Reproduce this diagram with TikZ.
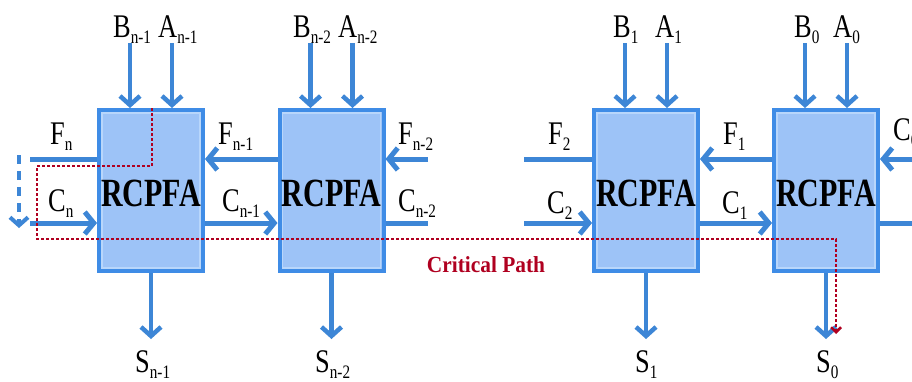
\documentclass[tikz,border=0pt]{standalone}
\usepackage{fontspec}
\setmainfont{Liberation Serif}
\usetikzlibrary{arrows.meta}
\definecolor{boxfill}{HTML}{9DC3F7}
\definecolor{boxline}{HTML}{3F8CE6}
\definecolor{boxinner}{HTML}{B8D6FB}
\definecolor{wire}{HTML}{3D86D6}
\definecolor{crit}{HTML}{B00020}
\newcommand\lsub[1]{\raisebox{-6pt}{\fontsize{19}{19}\selectfont #1}}
\newcommand\lab[2]{\scalebox{0.8}[1]{#1\lsub{#2}}}
\begin{document}
\begin{tikzpicture}[x=1pt,y=-1pt,
  box/.style={draw=boxline,fill=boxfill,line width=4pt,minimum width=104pt,minimum height=161pt,inner sep=0pt},
  innerbox/.style={draw=boxinner,line width=1.5pt},
  boxtext/.style={font=\bfseries\fontsize{40}{40}\selectfont,inner sep=0pt},
  wireline/.style={draw=wire,line width=5pt},
  arr/.style={draw=wire,line width=4.5pt,-{Straight Barb[length=9pt,width=20pt]}},
  harr/.style={draw=wire,line width=5pt,-{Straight Barb[length=9pt,width=22pt]}},
  lbl/.style={font=\fontsize{33}{36}\selectfont,inner sep=0pt,anchor=base west},
  critpath/.style={draw=crit,line width=2.5pt,dash pattern=on 3pt off 2pt,-{Straight Barb[length=5pt,width=10pt]}},
  critlbl/.style={font=\bfseries\fontsize{23}{25}\selectfont,text=crit,inner sep=0pt}
]
\useasboundingbox (0,0) rectangle (912,381);
\fill[white] (0,0) rectangle (912,381);

\coordinate (fy) at (0,159);
\coordinate (cy) at (0,223);

\foreach \i/\x in {1/151,2/331.5,3/646,4/826}{
  \node[box] (b\i) at (\x,190.5) {};
  \draw[innerbox] ([shift={(5,5)}]b\i.north west) rectangle ([shift={(-5,-5)}]b\i.south east);
  \node[boxtext] (r\i) at (\x,193) {\scalebox{0.75}[1]{RCPFA}};
  \coordinate (tb\i) at (\x-21,43);
  \coordinate (ta\i) at (\x+21,43);
  \coordinate (s\i) at (\x,339);
  \draw[arr] (tb\i) -- (tb\i |- b\i.north);
  \draw[arr] (ta\i) -- (ta\i |- b\i.north);
  \draw[arr] (b\i.south) -- (s\i);
}

% horizontal wires
\coordinate (fn) at (30,159);
\coordinate (cn) at (30,223);
\draw[wireline] (fn) -- (fn -| b1.west);
\draw[harr] (cn) -- (cn -| b1.west);
\draw[harr] (b2.west |- fy) -- (b1.east |- fy);
\draw[harr] (b1.east |- cy) -- (b2.west |- cy);
\coordinate (fr2) at (428,159);
\coordinate (cr2) at (428,223);
\draw[harr] (fr2) -- (fr2 -| b2.east);
\draw[wireline] (b2.east |- cy) -- (cr2);
\coordinate (fl3) at (524,159);
\coordinate (cl3) at (524,223);
\draw[wireline] (fl3) -- (fl3 -| b3.west);
\draw[harr] (cl3) -- (cl3 -| b3.west);
\draw[harr] (b4.west |- fy) -- (b3.east |- fy);
\draw[harr] (b3.east |- cy) -- (b4.west |- cy);
\coordinate (fr4) at (912,159);
\coordinate (cr4) at (912,223);
\draw[harr] (fr4) -- (fr4 -| b4.east);
\draw[wireline] (b4.east |- cy) -- (cr4);

% dashed blue arrow on the left
\coordinate (d1) at (19,155);
\coordinate (d2) at (19,228);
\draw[draw=wire,line width=4pt,dash pattern=on 9pt off 7pt,-{Straight Barb[length=8pt,width=18pt]}] (d1) -- (d2);

% critical path
\coordinate (p1) at (152,166);
\coordinate (p2) at (37,166);
\coordinate (p3) at (37,239);
\coordinate (p4) at (836,239);
\coordinate (p5) at (836,334);
\draw[critpath] ([xshift=1pt]b1.north) -- (p1) -- (p2) -- (p3) -- (p4) -- (p5);
\node[critlbl] (cp) at (486,265) {\scalebox{0.93}[1]{Critical Path}};

% labels
\node[lbl] (lb1) at (113,37) {\lab{B}{n-1}};
\node[lbl] (la1) at (158,37) {\lab{A}{n-1}};
\node[lbl] (lb2) at (293,37) {\lab{B}{n-2}};
\node[lbl] (la2) at (338,37) {\lab{A}{n-2}};
\node[lbl] (lb3) at (613,37) {\lab{B}{1}};
\node[lbl] (la3) at (655,37) {\lab{A}{1}};
\node[lbl] (lb4) at (794,37) {\lab{B}{0}};
\node[lbl] (la4) at (833,37) {\lab{A}{0}};

\node[lbl] (lfn) at (50,144) {\lab{F}{n}};
\node[lbl] (lfn1) at (218,144) {\lab{F}{n-1}};
\node[lbl] (lfn2) at (398,144) {\lab{F}{n-2}};
\node[lbl] (lf2) at (548,144) {\lab{F}{2}};
\node[lbl] (lf1) at (723,144) {\lab{F}{1}};
\node[lbl] (lc0) at (893,140) {\lab{C}{0}};

\node[lbl] (lcn) at (48,211) {\lab{C}{n}};
\node[lbl] (lcn1) at (222,211) {\lab{C}{n-1}};
\node[lbl] (lcn2) at (398,211) {\lab{C}{n-2}};
\node[lbl] (lc2) at (547,213) {\lab{C}{2}};
\node[lbl] (lc1) at (722,213) {\lab{C}{1}};

\node[lbl] (ls1) at (135,372) {\lab{S}{n-1}};
\node[lbl] (ls2) at (315,372) {\lab{S}{n-2}};
\node[lbl] (ls3) at (635,372) {\lab{S}{1}};
\node[lbl] (ls4) at (816,372) {\lab{S}{0}};
\end{tikzpicture}
\end{document}
